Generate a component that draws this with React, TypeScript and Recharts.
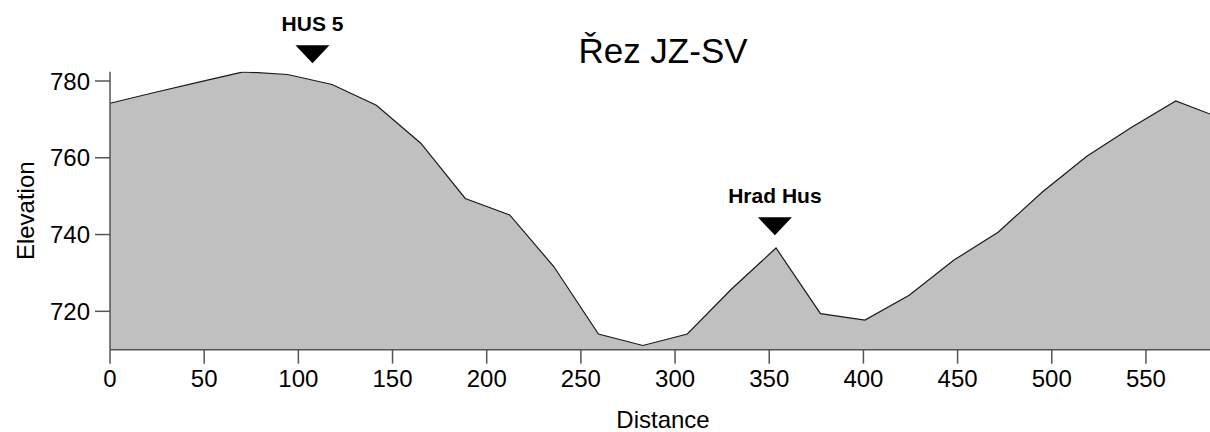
import React from 'react';
import { AreaChart, Area, XAxis, YAxis, ReferenceDot, Label } from 'recharts';

const distances = [0, 23.6, 47.1, 70.7, 94.3, 117.9, 141.4, 165.0, 188.6, 212.2, 235.7, 259.3, 282.9, 306.5, 330.0, 353.6, 377.2, 400.8, 424.3, 447.9, 471.5, 495.0, 518.6, 542.2, 565.8, 584];
const elevations = [774.2, 777.0, 779.7, 782.4, 781.7, 779.1, 773.7, 763.8, 749.4, 745.1, 731.6, 714.1, 711.1, 714.1, 725.8, 736.5, 719.4, 717.7, 724.2, 733.3, 740.6, 751.1, 760.4, 767.9, 774.8, 771.4];

const xTicks = [0, 50, 100, 150, 200, 250, 300, 350, 400, 450, 500, 550];
const yTicks = [720, 740, 760, 780];

const markerNames = ['HUS 5', 'Hrad Hus'];
const markerDistances = [107.5, 353];
const markerElevations = [784.6, 739.8];

const title = 'Řez JZ-SV';
const xLabel = 'Distance';
const yLabel = 'Elevation';

const data = distances.map((d, i) => ({ distance: d, elevation: elevations[i] }));

const FONT = '"Liberation Sans", Arial, sans-serif';
const AXIS_COLOR = '#555555';

const makeMarker = (name: string) => (props: any) => {
  const { cx, cy } = props;
  const w = 17;
  const h = 18;
  return (
    <g>
      <polygon points={`${cx - w},${cy - h} ${cx + w},${cy - h} ${cx},${cy}`} fill="#000" />
      <text x={cx} y={cy - 32} textAnchor="middle" fontFamily={FONT} fontWeight="bold" fontSize={21} fill="#000">
        {name}
      </text>
    </g>
  );
};

export default function App() {
  return (
    <div style={{ position: 'absolute', left: 0, top: 0, width: 1210, height: 432, background: '#fff' }}>
      <AreaChart width={1210} height={432} data={data} margin={{ top: 71.8, right: 0, bottom: 0, left: 0 }}>
        <text x={663} y={63} textAnchor="middle" fontFamily={FONT} fontSize={35} fill="#000">
          {title}
        </text>
        <XAxis
          type="number"
          dataKey="distance"
          domain={[0, 584]}
          ticks={xTicks}
          height={82.3}
          tickSize={14}
          tickMargin={6}
          axisLine={{ stroke: AXIS_COLOR, strokeWidth: 1.5 }}
          tickLine={{ stroke: AXIS_COLOR, strokeWidth: 1.5 }}
          tick={{ fill: '#000', fontSize: 24, fontFamily: FONT }}
          interval={0}
        >
          <Label
            content={() => (
              <text x={663} y={428} textAnchor="middle" fontFamily={FONT} fontSize={24} fill="#000">
                {xLabel}
              </text>
            )}
          />
        </XAxis>
        <YAxis
          type="number"
          domain={[710, 782.4]}
          ticks={yTicks}
          width={110}
          tickSize={15}
          tickMargin={5}
          allowDataOverflow
          axisLine={{ stroke: AXIS_COLOR, strokeWidth: 1.5 }}
          tickLine={{ stroke: AXIS_COLOR, strokeWidth: 1.5 }}
          tick={{ fill: '#000', fontSize: 24, fontFamily: FONT }}
          interval={0}
        >
          <Label
            content={() => (
              <text
                x={33.5}
                y={210.75}
                transform="rotate(-90 33.5 210.75)"
                textAnchor="middle"
                fontFamily={FONT}
                fontSize={24}
                fill="#000"
              >
                {yLabel}
              </text>
            )}
          />
        </YAxis>
        <Area
          type="linear"
          dataKey="elevation"
          fill="#c0c0c0"
          fillOpacity={1}
          stroke="#1a1a1a"
          strokeWidth={1.2}
          isAnimationActive={false}
          dot={false}
          activeDot={false}
        />
        {markerNames.map((name, i) => (
          <ReferenceDot
            key={name}
            x={markerDistances[i]}
            y={markerElevations[i]}
            ifOverflow="visible"
            shape={makeMarker(name)}
          />
        ))}
      </AreaChart>
    </div>
  );
}
